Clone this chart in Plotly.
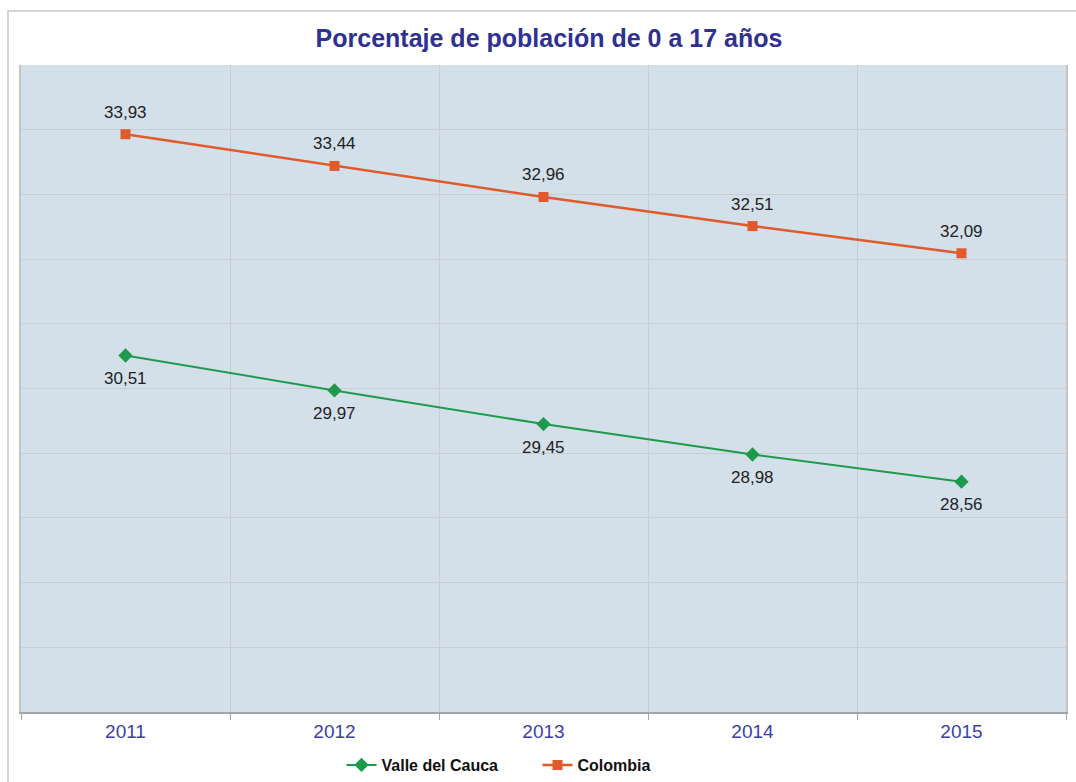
import plotly.graph_objects as go

years = ["2011", "2012", "2013", "2014", "2015"]
valle = [30.51, 29.97, 29.45, 28.98, 28.56]
colombia = [33.93, 33.44, 32.96, 32.51, 32.09]

xpos = list(range(len(years)))
FONT = "Liberation Sans, Arial, sans-serif"

def fmt(v):
    return f"{v:.2f}".replace(".", ",")

fig = go.Figure()
fig.add_trace(go.Scatter(
    x=xpos, y=valle, name="Valle del Cauca", mode="lines+markers",
    line=dict(color="#1e9a4c", width=2),
    marker=dict(symbol="diamond", size=11, color="#1e9a4c"),
))
fig.add_trace(go.Scatter(
    x=xpos, y=colombia, name="Colombia", mode="lines+markers",
    line=dict(color="#e05a2b", width=2.5),
    marker=dict(symbol="square", size=10, color="#e05a2b"),
))

for xi, v in zip(xpos, colombia):
    fig.add_annotation(x=xi, y=v, text=fmt(v), showarrow=False, yshift=22,
                       font=dict(family=FONT, size=17, color="#222222"))
for xi, v in zip(xpos, valle):
    fig.add_annotation(x=xi, y=v, text=fmt(v), showarrow=False, yshift=-23,
                       font=dict(family=FONT, size=17, color="#222222"))

fig.update_layout(
    width=1076, height=782,
    margin=dict(l=21, r=10, t=65, b=70, autoexpand=False),
    paper_bgcolor="white",
    plot_bgcolor="#d3e0ea",
    title=dict(text="<b>Porcentaje de población de 0 a 17 años</b>",
               x=549 / 1076, xanchor="center", y=1 - 38 / 782, yanchor="middle",
               font=dict(family=FONT, size=25, color="#2e3192")),
    showlegend=True,
    legend=dict(orientation="h", x=0.3067, xanchor="left", y=(712 - 765) / 647, yanchor="middle",
                font=dict(family=FONT, size=16, color="#111111", weight="bold"),
                itemwidth=30, entrywidth=151, bgcolor="rgba(0,0,0,0)"),
    xaxis=dict(
        range=[-0.5, 4.5], tickvals=xpos, ticktext=years,
        showgrid=False, ticks="", ticklabelstandoff=1,
        tickfont=dict(family=FONT, size=19, color="#3b40a8"),
        showline=True, linecolor="#a6a6a6", linewidth=2,
        minor=dict(tick0=-0.5, dtick=1, showgrid=True, gridcolor="#c9cdd2", gridwidth=1,
                   ticks="outside", ticklen=6, tickcolor="#a6a6a6", tickwidth=1),
        zeroline=False, mirror=False,
    ),
    yaxis=dict(
        range=[25, 35], dtick=1, showticklabels=False, ticks="",
        showgrid=True, gridcolor="#c9cdd2", gridwidth=1,
        showline=True, linecolor="#c4c4c4", linewidth=1.5, mirror=True,
        zeroline=False,
    ),
)

# outer chart border (cropped at right and bottom in the reference)
fig.add_shape(type="rect", xref="paper", yref="paper",
              x0=(8 - 21) / 1045, x1=1.05, y0=-0.2, y1=(712 - 11) / 647,
              line=dict(color="#c8c8c8", width=1.5), layer="below")

fig.write_html("out.html", config={"displayModeBar": False},
               post_script="document.body.style.margin='0';")
